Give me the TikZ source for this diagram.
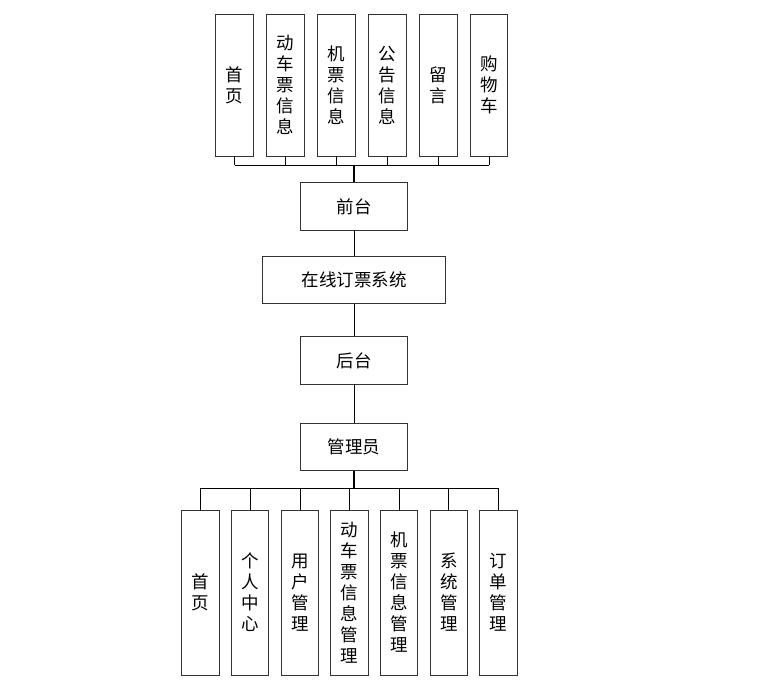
\documentclass[tikz,border=0pt]{standalone}
\usepackage{fontspec}
\setmainfont{Noto Sans CJK SC}
\begin{document}
\begin{tikzpicture}[x=1pt,y=-1pt,
  box/.style={draw=black!80,line width=0.8pt,inner sep=0pt,font=\fontsize{17.5}{21}\selectfont,align=center},
  hbox/.style={box,minimum width=106.6pt,minimum height=47.3pt},
  vtop/.style={box,minimum width=37.7pt,minimum height=141.7pt},
  vbot/.style={box,minimum width=37.7pt,minimum height=165pt},
  conn/.style={line width=0.8pt,black},
  trunk/.style={line width=1.6pt,black}]
\useasboundingbox (0,0) rectangle (768,680);
% top row
\node[vtop] (t1) at (234.5,85.2) {首\\页};
\node[vtop] (t2) at (285.5,85.2) {动\\车\\票\\信\\息};
\node[vtop] (t3) at (336.2,85.2) {机\\票\\信\\息};
\node[vtop] (t4) at (387.2,85.2) {公\\告\\信\\息};
\node[vtop] (t5) at (438.2,85.2) {留\\言};
\node[vtop] (t6) at (489,85.2) {购\\物\\车};
% middle chain
\node[hbox] (qt) at (354,206.4) {前台};
\node[hbox,minimum width=183pt] (sys) at (354,279.7) {在线订票系统};
\node[hbox] (ht) at (354,360.4) {后台};
\node[hbox] (gly) at (354,446.7) {管理员};
% bottom row
\node[vbot] (b1) at (200.5,592.5) {首\\页};
\node[vbot] (b2) at (250,592.5) {个\\人\\中\\心};
\node[vbot] (b3) at (300,592.5) {用\\户\\管\\理};
\node[vbot] (b4) at (349.3,592.5) {动\\车\\票\\信\\息\\管\\理};
\node[vbot] (b5) at (399,592.5) {机\\票\\信\\息\\管\\理};
\node[vbot] (b6) at (448.8,592.5) {系\\统\\管\\理};
\node[vbot] (b7) at (498.3,592.5) {订\\单\\管\\理};
% top bus
\coordinate (tb) at (354,165);
\foreach \i in {1,...,6} \draw[conn] (t\i.south) -- (t\i.south |- tb);
\draw[conn] (t1.south |- tb) -- (t6.south |- tb);
\draw[trunk] (tb) -- (qt.north);
% chain
\draw[conn] (qt.south) -- (sys.north);
\draw[conn] (sys.south) -- (ht.north);
\draw[conn] (ht.south) -- (gly.north);
% bottom bus
\coordinate (bb) at (354,488.3);
\draw[trunk] (gly.south) -- (bb);
\draw[conn] (b1.north |- bb) -- (b7.north |- bb);
\foreach \i in {1,...,7} \draw[conn] (b\i.north |- bb) -- (b\i.north);
\end{tikzpicture}
\end{document}
